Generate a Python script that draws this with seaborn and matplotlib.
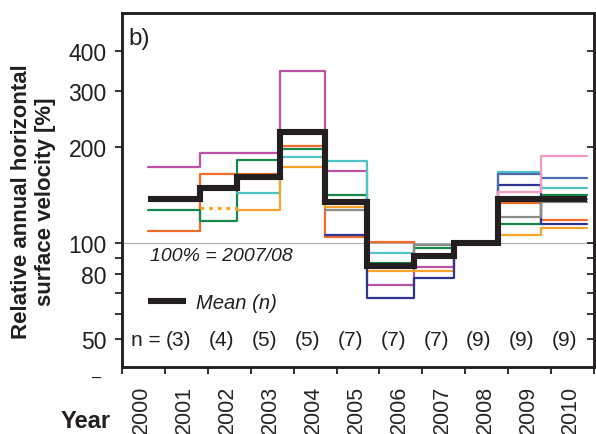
import numpy as np
import pandas as pd
import matplotlib
matplotlib.use("Agg")
import matplotlib.pyplot as plt
import matplotlib.ticker as mticker
import seaborn as sns

# survey epochs (fractional years): start of each annual interval + final end
edges = [2000.61, 2001.82, 2002.69, 2003.69, 2004.72, 2005.72,
         2006.80, 2007.73, 2008.76, 2009.76, 2010.84]

nan = np.nan
# relative annual velocity [%] per interval, 100% = 2007/08
magenta = [173, 192, 192, 345, 168, 74, 84, 100, 136, 137]
orange_red = [109, 164.5, 164.5, 202, 104.4, 100.5, 91, 100, 134, 118]
green = [127, 117.5, 182, 197, 141, 86.6, 96.2, 100, 114.7, 141.4]
cyan = [nan, nan, 144, 186.5, 181, 93, 91, 100, 167, 148.4]
light_orange = [nan, nan, 127, 173, 129.5, 81.9, 81.9, 100, 106, 111.2]
light_orange_est = [nan, 128.5, nan, nan, nan, nan, nan, nan, nan, nan]
dark_blue = [nan, nan, nan, nan, 106.2, 67.1, 78, 100, 152, 114.4]
gray = [nan, nan, nan, nan, 127, 85, 98.8, 100, 120.4, 135]
mid_blue = [nan, nan, nan, nan, nan, nan, nan, 100, 164.2, 159.5]
pink = [nan, nan, nan, nan, nan, nan, nan, 100, 144.8, 187]
mean_vel = [137.4, 148.4, 160.7, 223, 134.5, 84.5, 91.2, 100, 137.4, 137]

n_counts = [3, 4, 5, 5, 7, 7, 7, 9, 9, 9]
n_years = list(range(2001, 2011))
year_labels = list(range(2000, 2011))

series = {
    "magenta": magenta, "orange_red": orange_red, "green": green,
    "cyan": cyan, "light_orange": light_orange, "dark_blue": dark_blue,
    "gray": gray, "mid_blue": mid_blue, "pink": pink,
}
palette = {
    "magenta": "#BC52A6", "orange_red": "#F26B2A", "green": "#17884A",
    "cyan": "#50C3C8", "light_orange": "#F9A229", "dark_blue": "#2F3593",
    "gray": "#8C8C8C", "mid_blue": "#4C6DB6", "pink": "#F49BC3",
}


def step_frame(name, vals):
    # steps-post needs the last value repeated at the closing edge
    idx = [i for i, v in enumerate(vals) if not np.isnan(v)]
    xs = [edges[i] for i in idx] + [edges[idx[-1] + 1]]
    ys = [vals[i] for i in idx] + [vals[idx[-1]]]
    return pd.DataFrame({"year": xs, "vel": ys, "glacier": name})


df = pd.concat([step_frame(k, v) for k, v in series.items()], ignore_index=True)
df_mean = step_frame("mean", mean_vel)
df_est = step_frame("light_orange", light_orange_est)

sns.set_style("ticks")
plt.rcParams["font.family"] = ["Liberation Sans", "DejaVu Sans"]
ink = "#231F20"

fig = plt.figure(figsize=(5.96, 4.35), dpi=100)
ax = fig.add_axes([0.2047, 0.154, 0.7919, 0.8138])
ax.set_yscale("log")

ax.axhline(100, color="#B0B0B0", lw=0.8, zorder=1)

sns.lineplot(data=df, x="year", y="vel", hue="glacier", palette=palette,
             estimator=None, sort=False, drawstyle="steps-post", lw=1.6,
             legend=False, ax=ax, zorder=2)
sns.lineplot(data=df_est, x="year", y="vel", color=palette["light_orange"],
             estimator=None, sort=False, drawstyle="steps-post", lw=2.4,
             ls=(0, (1.1, 1.5)), legend=False, ax=ax, zorder=2)
sns.lineplot(data=df_mean, x="year", y="vel", color=ink,
             estimator=None, sort=False, drawstyle="steps-post", lw=4.4,
             label="Mean (n)", ax=ax, zorder=3,
             solid_joinstyle="miter", solid_capstyle="butt")

ax.set_xlim(2000, 2011)
ax.set_ylim(40.9, 526)

# x ticks at year boundaries, labels centred in each year
ax.set_xticks(range(2000, 2012))
ax.set_xticklabels([])
ax.set_xticks([y + 0.46 for y in year_labels], minor=True)
ax.set_xticklabels([str(y) for y in year_labels], minor=True,
                   rotation=90, fontsize=15.5)
ax.tick_params(axis="x", which="major", direction="out", length=5, width=1.3)
ax.tick_params(axis="x", which="minor", length=0, pad=13)

yt = [50, 80, 100, 200, 300, 400]
ax.yaxis.set_major_locator(mticker.FixedLocator(yt))
ax.yaxis.set_major_formatter(mticker.FixedFormatter([str(v) for v in yt]))
ax.yaxis.set_minor_locator(mticker.FixedLocator([60, 70, 90]))
ax.yaxis.set_minor_formatter(mticker.NullFormatter())
ax.tick_params(axis="y", which="both", direction="out", length=5, width=1.3,
               labelsize=16.5, pad=6)

ax2 = ax.twinx()
ax2.set_yscale("log")
ax2.set_ylim(ax.get_ylim())
ax2.yaxis.set_major_locator(mticker.FixedLocator(yt))
ax2.yaxis.set_minor_locator(mticker.FixedLocator([60, 70, 90]))
ax2.yaxis.set_major_formatter(mticker.NullFormatter())
ax2.yaxis.set_minor_formatter(mticker.NullFormatter())
ax2.tick_params(axis="y", which="both", direction="in", length=5, width=1.3)

for a in (ax, ax2):
    for sp in a.spines.values():
        sp.set_linewidth(1.8)
        sp.set_color(ink)
ax.tick_params(colors=ink)

ax.set_xlabel("")
ax.set_ylabel("")

ax.text(0.013, 0.96, "b)", transform=ax.transAxes, fontsize=17.5,
        ha="left", va="top", color=ink)
ax.text(2000.65, 91.5, "100% = 2007/08", fontsize=14, style="italic",
        ha="left", va="center", color=ink)

ax.text(2000.9, 50, "n =", fontsize=15, ha="right", va="center", color=ink)
for yr, n in zip(n_years, n_counts):
    ax.text(yr + 0.32, 50, f"({n})", fontsize=15, ha="center", va="center",
            color=ink)

leg = ax.legend(loc="center left", bbox_to_anchor=(0.055, 0.181),
                frameon=False, borderpad=0, borderaxespad=0,
                handlelength=1.9, handletextpad=0.5,
                prop={"size": 14.5, "style": "italic"})
for t in leg.get_texts():
    t.set_color(ink)

fig.text(0.056, 0.5356, "Relative annual horizontal\nsurface velocity [%]",
         rotation=90, ha="center", va="center", fontsize=16,
         fontweight="bold", linespacing=1.15, color=ink)
fig.text(0.144, 0.032, "Year", ha="center", va="center", fontsize=17,
         fontweight="bold", color=ink)
fig.text(0.163, 0.131, "–", ha="center", va="center", fontsize=12, color=ink)

fig.savefig("out.png", dpi=100)
